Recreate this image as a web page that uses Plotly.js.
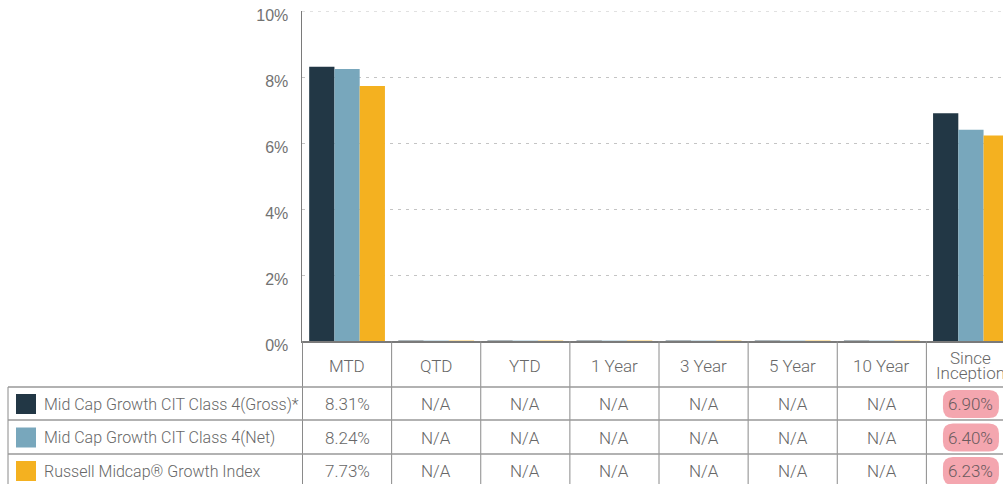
<!DOCTYPE html>
<html>
<head>
<meta charset="utf-8">
<script src="https://cdn.plot.ly/plotly-3.0.1.min.js"></script>
<style>
  html, body { margin: 0; padding: 0; overflow: hidden; background: #fff; }
  #chart { width: 1020px; height: 490px; }
</style>
</head>
<body>
<div id="chart"></div>
<script>
// ---------- data ----------
const categories = ['MTD', 'QTD', 'YTD', '1 Year', '3 Year', '5 Year', '10 Year', 'Since Inception'];
const seriesNames = [
  'Mid Cap Growth CIT Class 4(Gross)*',
  'Mid Cap Growth CIT Class 4(Net)',
  'Russell Midcap® Growth Index'
];
const grossValues = [8.31, null, null, null, null, null, null, 6.90];
const netValues   = [8.24, null, null, null, null, null, null, 6.40];
const indexValues = [7.73, null, null, null, null, null, null, 6.23];
const yTickValues = [0, 2, 4, 6, 8, 10];
const yTickLabels = ['0%', '2%', '4%', '6%', '8%', '10%'];
const highlightedCategory = 'Since Inception';

// ---------- styling ----------
const seriesColors = ['#223745', '#78a7bc', '#f4b120'];
const allValues = [grossValues, netValues, indexValues];
const textColor = '#676767';
const lineColor = '#8a8a8a';
const gridStyle = { color: '#c4c4c4', width: 1, dash: '3px,5px' };

// layout geometry (pixels)
const W = 1020, H = 490, ML = 302, MR = 4, MT = 11, MB = 149;
const plotW = W - ML - MR, plotH = H - MT - MB;
const plotBottom = MT + plotH;
const xp = px => (px - ML) / plotW;          // pixel x -> paper x
const yp = py => (plotBottom - py) / plotH;  // pixel y -> paper y

const rowLines = [387, 420, 454];
const rowCenters = [404, 437.5, 471];
const headerCenter = 366;
const tableLeft = 8;
const tableBottom = 500;

const traces = allValues.map((vals, i) => ({
  type: 'bar',
  name: seriesNames[i],
  x: categories,
  y: vals.map(v => (v === null ? 0 : v)),
  marker: { color: seriesColors[i], line: { color: seriesColors[i], width: vals.map(v => v === null ? 0.4 : 0) } },
  hoverinfo: 'skip'
}));

const shapes = [];
const annotations = [];

// top gridline (at the range edge, which Plotly does not draw itself)
const yMax = yTickValues[yTickValues.length - 1];
shapes.push({
  type: 'line', xref: 'paper', yref: 'y', x0: 0, x1: 1, y0: yMax, y1: yMax,
  line: gridStyle, layer: 'below'
});

// vertical column borders
for (let k = 0; k <= categories.length; k++) {
  shapes.push({
    type: 'line', xref: 'x', yref: 'paper',
    x0: k - 0.5, x1: k - 0.5, y0: 0, y1: yp(tableBottom),
    line: { color: lineColor, width: 1 }
  });
}
// left table border
shapes.push({
  type: 'line', xref: 'paper', yref: 'paper',
  x0: xp(tableLeft), x1: xp(tableLeft), y0: yp(rowLines[0]), y1: yp(tableBottom),
  line: { color: lineColor, width: 1 }
});
// horizontal row borders
rowLines.forEach(py => {
  shapes.push({
    type: 'line', xref: 'paper', yref: 'paper',
    x0: xp(tableLeft), x1: 1.05, y0: yp(py), y1: yp(py),
    line: { color: '#999999', width: 1.5 }
  });
});

// header labels
categories.forEach((c, k) => {
  const lines = c === 'Since Inception' ? ['Since', 'Inception'] : [c];
  const offsets = lines.length === 2 ? [-8, 7] : [0];
  lines.forEach((t, j) => {
    annotations.push({
      xref: 'x', yref: 'paper', x: k, y: yp(headerCenter + offsets[j]),
      text: t, showarrow: false, xanchor: 'center', yanchor: 'middle',
      font: { family: 'Roboto', size: 17, color: textColor, weight: 300 }
    });
  });
});

// legend rows (swatch + name) and value cells
allValues.forEach((vals, i) => {
  const cy = rowCenters[i];
  shapes.push({
    type: 'rect', xref: 'paper', yref: 'paper',
    x0: xp(16), x1: xp(36), y0: yp(cy - 10), y1: yp(cy + 10),
    fillcolor: seriesColors[i], line: { width: 0 }
  });
  annotations.push({
    xref: 'paper', yref: 'paper', x: xp(42), y: yp(cy),
    text: seriesNames[i], showarrow: false, xanchor: 'left', yanchor: 'middle',
    font: { family: 'Roboto', size: 16, color: textColor, weight: 300 }
  });
  vals.forEach((v, k) => {
    const isHi = categories[k] === highlightedCategory;
    if (isHi) {
      const hw = 28, hh = 14, r = 10;
      shapes.push({
        type: 'path', xref: 'x', yref: 'paper',
        xsizemode: 'pixel', ysizemode: 'pixel', xanchor: k, yanchor: yp(cy),
        path: `M ${-hw + r},${-hh} L ${hw - r},${-hh} Q ${hw},${-hh} ${hw},${-hh + r} L ${hw},${hh - r} Q ${hw},${hh} ${hw - r},${hh} L ${-hw + r},${hh} Q ${-hw},${hh} ${-hw},${hh - r} L ${-hw},${-hh + r} Q ${-hw},${-hh} ${-hw + r},${-hh} Z`,
        fillcolor: '#f4a6af', line: { width: 0 }, layer: 'below'
      });
    }
    annotations.push({
      xref: 'x', yref: 'paper', x: k, y: yp(cy),
      text: v === null ? 'N/A' : v.toFixed(2) + '%', showarrow: false,
      xanchor: 'center', yanchor: 'middle',
      font: { family: 'Roboto', size: 17, color: isHi ? '#6a5a5d' : textColor, weight: 300 }
    });
  });
});

const layout = {
  width: W, height: H,
  margin: { l: ML, r: MR, t: MT, b: MB, pad: 0 },
  paper_bgcolor: '#ffffff', plot_bgcolor: '#ffffff',
  barmode: 'group', bargap: 0.15, bargroupgap: 0,
  showlegend: false,
  xaxis: {
    type: 'category', showticklabels: false, ticks: '',
    showline: true, linecolor: '#7a7a7a', linewidth: 1.5,
    showgrid: false, zeroline: false, fixedrange: true
  },
  yaxis: {
    range: [0, yMax], tickvals: yTickValues, ticktext: yTickLabels,
    showline: true, linecolor: '#7a7a7a', linewidth: 1.5,
    showgrid: true, gridcolor: gridStyle.color, gridwidth: gridStyle.width, griddash: gridStyle.dash,
    zeroline: false, ticks: '', ticklabelstandoff: 9, ticklabelshift: 4,
    tickfont: { family: 'Liberation Sans, Arial, sans-serif', size: 16, color: '#727272' },
    fixedrange: true
  },
  shapes: shapes,
  annotations: annotations
};

Plotly.newPlot('chart', traces, layout, { displayModeBar: false, staticPlot: true });
</script>
</body>
</html>
